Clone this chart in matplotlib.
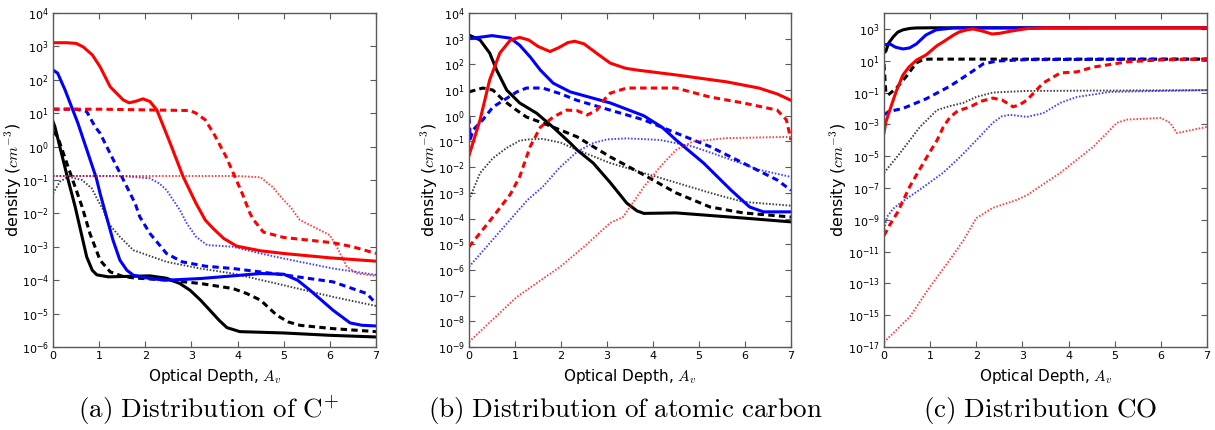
import numpy as np
import matplotlib
matplotlib.use("Agg")
import matplotlib.pyplot as plt

plt.rcParams['mathtext.fontset'] = 'cm'
plt.rcParams['font.family'] = ['DejaVu Sans']

# ---------------- Panel (a): C+ ----------------
a_red_solid_av = [0, 0.3, 0.5, 0.65, 0.85, 1.02, 1.24, 1.52, 1.65, 1.8, 1.95, 2.1, 2.25, 2.54, 2.82, 3.1, 3.3, 3.47, 3.7, 3.98, 4.5, 5.0, 6.0, 7.0]
a_red_solid_lg = [3.11, 3.11, 3.09, 2.99, 2.75, 2.39, 1.79, 1.4, 1.31, 1.36, 1.43, 1.35, 1.1, 0.1, -0.9, -1.7, -2.2, -2.45, -2.75, -2.98, -3.12, -3.2, -3.33, -3.43]
a_red_dash_av = [0, 1.0, 2.0, 2.97, 3.1, 3.3, 3.5, 3.75, 4.1, 4.27, 4.35, 4.56, 5.0, 6.07, 6.5, 7.0]
a_red_dash_lg = [1.12, 1.12, 1.1, 1.08, 1.0, 0.8, 0.35, -0.3, -1.4, -2.0, -2.2, -2.56, -2.72, -2.88, -3.0, -3.2]
a_red_dot_av = [0, 2.0, 4.0, 4.5, 4.75, 5.0, 5.14, 5.35, 5.5, 6.0, 6.15, 6.37, 6.6, 7.0]
a_red_dot_lg = [-0.88, -0.88, -0.88, -0.92, -1.2, -1.6, -1.8, -2.2, -2.3, -2.65, -3.0, -3.6, -3.8, -3.87]
a_blue_solid_av = [0, 0.1, 0.26, 0.54, 0.94, 1.02, 1.16, 1.3, 1.45, 1.6, 1.74, 2.1, 2.46, 3.2, 3.9, 4.5, 5.0, 5.3, 5.57, 6.07, 6.44, 6.7, 7.0]
a_blue_solid_lg = [2.29, 2.2, 1.7, 0.7, -0.95, -1.4, -2.1, -2.8, -3.4, -3.7, -3.85, -3.95, -4.0, -3.95, -3.87, -3.8, -3.82, -4.0, -4.3, -4.9, -5.28, -5.35, -5.37]
a_blue_dash_av = [0, 0.5, 0.73, 0.91, 1.02, 1.2, 1.49, 1.78, 1.88, 2.1, 2.46, 2.8, 3.3, 3.9, 5.0, 6.07, 6.8, 7.0]
a_blue_dash_lg = [1.12, 1.12, 1.05, 0.6, 0.4, -0.1, -0.9, -1.7, -2.1, -2.6, -3.2, -3.45, -3.58, -3.65, -3.84, -4.05, -4.4, -4.7]
a_blue_dot_av = [0, 1.5, 2.1, 2.3, 2.46, 2.75, 2.9, 3.1, 3.34, 3.6, 3.9, 4.5, 5.0, 6.07, 7.0]
a_blue_dot_lg = [-0.88, -0.88, -0.95, -1.1, -1.3, -1.9, -2.3, -2.7, -2.95, -2.97, -3.0, -3.2, -3.35, -3.65, -3.84]
a_black_solid_av = [0, 0.04, 0.3, 0.48, 0.73, 0.85, 0.95, 1.2, 2.1, 2.46, 2.75, 2.97, 3.2, 3.4, 3.6, 3.77, 4.05, 5.0, 6.0, 7.0]
a_black_solid_lg = [0.75, 0.6, -0.85, -1.8, -3.3, -3.7, -3.84, -3.9, -3.87, -3.94, -4.1, -4.3, -4.6, -4.9, -5.2, -5.42, -5.54, -5.58, -5.65, -5.7]
a_black_dash_av = [0, 0.1, 0.3, 0.63, 0.8, 1.02, 1.24, 1.5, 1.74, 2.5, 3.2, 3.9, 4.2, 4.5, 4.85, 5.1, 5.35, 6.07, 7.0]
a_black_dash_lg = [0.45, 0.3, -0.5, -1.8, -2.6, -3.4, -3.75, -3.88, -3.93, -4.0, -4.1, -4.25, -4.4, -4.6, -5.05, -5.25, -5.35, -5.45, -5.54]
a_black_dot_av = [0, 0.15, 0.33, 0.63, 0.84, 0.97, 1.09, 1.2, 1.45, 1.74, 2.46, 3.19, 3.9, 5.0, 6.07, 7.0]
a_black_dot_lg = [-1.4, -1.05, -0.9, -1.0, -1.25, -1.6, -1.9, -2.3, -2.7, -3.1, -3.45, -3.65, -3.8, -4.15, -4.5, -4.77]

# ---------------- Panel (b): atomic carbon ----------------
b_red_solid_av = [0, 0.24, 0.45, 0.67, 0.9, 1.1, 1.3, 1.5, 1.76, 1.95, 2.15, 2.3, 2.5, 2.8, 3.07, 3.4, 3.65, 4.5, 5.6, 6.3, 6.7, 7.0]
b_red_solid_lg = [-1.55, -0.16, 1.4, 2.44, 2.95, 3.05, 2.95, 2.7, 2.5, 2.65, 2.85, 2.9, 2.8, 2.4, 2.05, 1.85, 1.78, 1.59, 1.32, 1.08, 0.85, 0.6]
b_red_dash_av = [0, 0.52, 0.9, 1.1, 1.33, 1.55, 1.83, 2.12, 2.35, 2.57, 2.78, 2.9, 3.07, 3.43, 4.5, 5.24, 5.96, 6.7, 6.9, 7.0]
b_red_dash_lg = [-5.1, -3.94, -3.05, -2.38, -1.2, -0.45, -0.05, 0.22, 0.2, 0.03, 0.22, 0.55, 0.88, 1.08, 1.08, 0.73, 0.5, 0.22, -0.16, -0.94]
b_red_dot_av = [0, 1.04, 1.98, 2.5, 3.07, 3.35, 3.8, 4.15, 4.5, 4.87, 5.6, 7.0]
b_red_dot_lg = [-8.8, -7.05, -5.88, -5.1, -4.17, -3.94, -2.77, -2.0, -1.33, -1.0, -0.87, -0.82]
b_blue_solid_av = [0, 0.5, 0.9, 1.1, 1.33, 1.55, 1.83, 2.2, 3.07, 3.8, 4.2, 4.5, 5.1, 5.7, 6.1, 6.4, 7.0]
b_blue_solid_lg = [3.0, 3.12, 3.02, 2.75, 2.29, 1.78, 1.27, 0.93, 0.5, 0.0, -0.45, -0.94, -1.84, -2.9, -3.55, -3.74, -3.74]
b_blue_dash_av = [0, 0.03, 0.09, 0.3, 0.52, 0.75, 1.04, 1.25, 1.6, 2.0, 2.35, 3.07, 3.8, 4.5, 5.24, 5.96, 6.7, 7.0]
b_blue_dash_lg = [-0.05, -0.9, -0.55, -0.16, 0.34, 0.6, 0.93, 1.08, 1.08, 0.85, 0.6, 0.22, -0.16, -0.67, -1.2, -1.84, -2.5, -2.9]
b_blue_dot_av = [0, 0.6, 1.27, 1.6, 1.98, 2.35, 2.7, 3.0, 3.43, 4.15, 4.87, 5.6, 6.3, 7.0]
b_blue_dot_lg = [-5.88, -4.65, -3.28, -2.77, -2.0, -1.4, -1.06, -0.92, -0.88, -0.94, -1.2, -1.65, -2.1, -2.38]
b_black_solid_av = [0, 0.24, 0.45, 0.6, 0.82, 1.1, 1.47, 1.83, 2.2, 2.35, 2.7, 3.07, 3.43, 3.65, 3.8, 4.5, 5.96, 7.0]
b_black_solid_lg = [3.14, 2.95, 2.44, 1.78, 1.0, 0.5, 0.1, -0.45, -1.06, -1.33, -1.84, -2.6, -3.4, -3.7, -3.8, -3.78, -3.98, -4.13]
b_black_dash_av = [0, 0.3, 0.52, 0.75, 0.97, 1.25, 1.6, 1.98, 2.35, 3.07, 3.8, 4.5, 5.24, 5.96, 7.0]
b_black_dash_lg = [0.93, 1.08, 1.0, 0.6, 0.3, -0.05, -0.28, -0.55, -0.82, -1.6, -2.3, -3.0, -3.55, -3.78, -3.94]
b_black_dot_av = [0, 0.24, 0.52, 0.82, 1.1, 1.3, 1.6, 2.0, 2.35, 3.07, 3.8, 4.5, 5.24, 5.96, 7.0]
b_black_dot_lg = [-3.28, -2.23, -1.65, -1.25, -0.97, -0.92, -0.9, -1.05, -1.33, -1.84, -2.23, -2.6, -3.0, -3.35, -3.5]

# ---------------- Panel (c): CO ----------------
c_red_solid_av = [0, 0.04, 0.2, 0.26, 0.41, 0.54, 0.71, 0.91, 1.15, 1.28, 1.5, 1.63, 1.8, 1.93, 2.15, 2.34, 2.5, 2.73, 3.1, 3.5, 7.0]
c_red_solid_lg = [-3.54, -2.85, -1.47, -0.96, 0.1, 0.6, 1.05, 1.36, 1.95, 2.18, 2.6, 2.81, 2.94, 3.0, 2.85, 2.68, 2.72, 2.85, 3.02, 3.07, 3.07]
c_red_dash_av = [0, 0.13, 0.3, 0.56, 0.93, 1.15, 1.28, 1.43, 1.6, 1.87, 2.1, 2.36, 2.56, 2.8, 2.95, 3.1, 3.45, 3.82, 4.18, 4.54, 5.27, 6.0, 7.0]
c_red_dash_lg = [-10.0, -9.3, -8.5, -6.9, -5.05, -4.0, -3.2, -2.55, -2.15, -1.9, -1.55, -1.35, -1.47, -1.9, -1.75, -1.47, -0.4, 0.23, 0.3, 0.6, 0.93, 1.05, 1.1]
c_red_dot_av = [0, 0.56, 1.0, 1.43, 1.72, 2.0, 2.36, 2.88, 3.1, 3.82, 4.54, 5.05, 5.27, 6.0, 6.2, 6.35, 7.0]
c_red_dot_lg = [-16.7, -15.1, -13.2, -11.5, -10.3, -8.9, -8.25, -7.75, -7.45, -6.05, -4.4, -2.9, -2.7, -2.6, -2.9, -3.55, -3.16]
c_blue_solid_av = [0, 0.13, 0.25, 0.41, 0.55, 0.7, 0.91, 1.13, 1.5, 7.0]
c_blue_solid_lg = [2.0, 2.05, 1.85, 1.74, 1.8, 2.05, 2.62, 2.94, 3.06, 3.07]
c_blue_dash_av = [0, 0.1, 0.41, 0.91, 1.43, 1.85, 2.15, 2.45, 3.1, 7.0]
c_blue_dash_lg = [-2.4, -2.2, -2.0, -1.4, -0.6, 0.2, 0.8, 0.98, 1.07, 1.1]
c_blue_dot_av = [0, 0.07, 0.2, 0.35, 0.78, 1.28, 1.65, 2.0, 2.36, 2.55, 2.73, 3.1, 3.45, 3.82, 4.18, 4.9, 6.0, 7.0]
c_blue_dot_lg = [-9.6, -8.8, -8.3, -7.95, -7.1, -6.05, -5.05, -4.0, -2.9, -2.5, -2.4, -2.53, -2.3, -1.65, -1.28, -0.96, -0.9, -0.85]
c_black_solid_av = [0, 0.04, 0.1, 0.2, 0.3, 0.41, 0.56, 0.7, 1.0, 7.0]
c_black_solid_lg = [1.5, 1.6, 2.1, 2.5, 2.8, 2.94, 3.03, 3.06, 3.07, 3.07]
c_black_dash_av = [0, 0.04, 0.09, 0.26, 0.48, 0.7, 0.85, 1.0, 7.0]
c_black_dash_lg = [0.8, -1.0, -1.15, -0.75, 0.0, 0.86, 1.08, 1.1, 1.1]
c_black_dot_av = [0, 0.35, 0.78, 1.15, 1.43, 1.72, 2.0, 2.36, 3.1, 7.0]
c_black_dot_lg = [-6.05, -4.8, -3.16, -2.1, -1.85, -1.65, -1.28, -1.0, -0.9, -0.85]

x_ticks = [0, 1, 2, 3, 4, 5, 6, 7]
captions = [r'$\mathrm{(a)\ Distribution\ of\ C^{+}}$',
            r'$\mathrm{(b)\ Distribution\ of\ atomic\ carbon}$',
            r'$\mathrm{(c)\ Distribution\ CO}$']

W, H = 1215, 430
fig = plt.figure(figsize=(W / 100, H / 100), dpi=100)

boxes = [(53, 376), (469, 791), (884, 1207)]
top, bot = 13, 347
caption_x = [208, 625, 1040]
ylabel_off = [-0.09, -0.09, -0.108]

def style(kind, color):
    if kind == 'solid':
        return dict(color=color, lw=2.2, ls='-')
    if kind == 'dash':
        return dict(color=color, lw=2.2, ls=(0, (2.1, 1.4)))
    return dict(color=color, lw=1.4, ls=(0, (0.8, 0.9)), alpha=0.75)

colors = {'red': 'red', 'blue': 'blue', 'black': 'black'}
ns = globals()

panels = ['a', 'b', 'c']
ylims = [(1e-6, 1e4), (1e-9, 1e4), (1e-17, 1e4)]
yticks = [10.0 ** np.arange(-6, 5), 10.0 ** np.arange(-9, 5), 10.0 ** np.arange(-17, 4, 2)]

for i, p in enumerate(panels):
    l, r = boxes[i]
    ax = fig.add_axes([l / W, 1 - bot / H, (r - l) / W, (bot - top) / H])
    ax.set_yscale('log')
    for col in ['black', 'blue', 'red']:
        for kind in ['dot', 'dash', 'solid']:
            av = ns[f'{p}_{col}_{kind}_av']
            lg = np.array(ns[f'{p}_{col}_{kind}_lg'])
            ax.plot(av, 10.0 ** lg, **style(kind, colors[col]))
    ax.set_xlim(0, 7)
    ax.set_ylim(*ylims[i])
    ax.set_xticks(x_ticks)
    ax.set_yticks(yticks[i])
    ax.minorticks_off()
    ax.tick_params(direction='in', top=True, right=True, length=4, width=0.8,
                   labelsize=8, color='0.35', pad=3)
    for s in ax.spines.values():
        s.set_color('0.35')
        s.set_linewidth(1.0)
    ax.set_xlabel(r'Optical Depth, $A_v$', fontsize=11)
    ax.set_ylabel(r'density ($cm^{-3}$)', fontsize=11.5)
    ax.yaxis.set_label_coords(ylabel_off[i], 0.5)
    fig.text(caption_x[i] / W, 1 - 411 / H, captions[i], ha='center', va='center', fontsize=19.5)

fig.savefig('out.png', dpi=100)
